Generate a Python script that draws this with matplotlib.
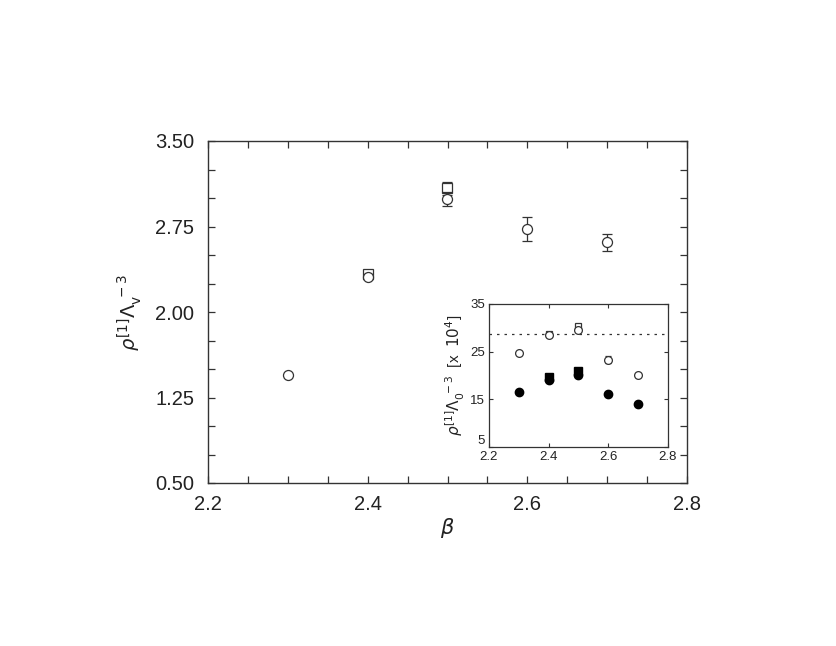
import matplotlib
matplotlib.use("Agg")
import matplotlib.pyplot as plt
from matplotlib.ticker import MultipleLocator

plt.rcParams['font.family'] = ['Liberation Sans', 'DejaVu Sans']
plt.rcParams['mathtext.fontset'] = 'dejavusans'

# Main panel data
beta_circ = [2.3, 2.4, 2.5, 2.6, 2.7]
rho_circ = [1.45, 2.31, 2.99, 2.73, 2.61]
err_circ = [0.0, 0.02, 0.063, 0.107, 0.075]
beta_sq = [2.4, 2.5]
rho_sq = [2.33, 3.085]
err_sq = [0.02, 0.057]

# Inset data
in_beta_oc = [2.3, 2.4, 2.5, 2.6, 2.7]
in_oc = [24.8, 28.6, 29.5, 23.3, 20.1]
in_oc_err = [0.0, 0.3, 0.3, 0.7, 0.0]
in_beta_os = [2.4, 2.5]
in_os = [28.8, 30.4]
in_os_err = [0.4, 0.4]
in_beta_fc = [2.3, 2.4, 2.5, 2.6, 2.7]
in_fc = [16.6, 19.0, 20.1, 16.1, 14.1]
in_beta_fs = [2.4, 2.5]
in_fs = [19.6, 20.9]
in_ref_level = 28.8

main_xticks = [2.2, 2.4, 2.6, 2.8]
main_yticks = [0.5, 1.25, 2.0, 2.75, 3.5]
main_yticklabels = ['0.50', '1.25', '2.00', '2.75', '3.50']
in_yticks = [5, 15, 25, 35]

lc = '#333333'
tc = '#222222'
fig = plt.figure(figsize=(8.36, 6.46), dpi=100)

ax = fig.add_axes([208/836, (646-483)/646, 479/836, 342/646])
ax.errorbar(beta_circ, rho_circ, yerr=err_circ, fmt='o', mfc='white', mec=lc,
            ecolor=lc, ms=7.2, mew=0.9, elinewidth=0.9, capsize=3.3, capthick=0.9, zorder=3)
ax.errorbar(beta_sq, rho_sq, yerr=err_sq, fmt='s', mfc='white', mec=lc,
            ecolor=lc, ms=6.5, mew=0.9, elinewidth=0.9, capsize=3.3, capthick=0.9, zorder=2)
ax.set_xlim(2.2, 2.8)
ax.set_ylim(0.5, 3.5)
ax.set_yticks(main_yticks)
ax.set_yticklabels(main_yticklabels)
ax.set_xticks(main_xticks)
ax.set_xticklabels([f'{v:.1f}' for v in main_xticks])
ax.xaxis.set_minor_locator(MultipleLocator(0.05))
ax.yaxis.set_minor_locator(MultipleLocator(0.25))
ax.tick_params(which='both', direction='in', top=True, right=True, length=5,
               width=0.9, color=lc, labelsize=14.5, labelcolor=tc)
ax.tick_params(axis='y', pad=10)
ax.tick_params(axis='x', pad=9)
for s in ax.spines.values():
    s.set_color(lc)
    s.set_linewidth(1.0)
ax.set_xlabel(r'$\beta$', fontsize=15, labelpad=1, color=tc)
ax.set_ylabel(r'$\rho^{[1]}\Lambda_{\rm v}^{\ -3}$', fontsize=14, labelpad=8, color=tc)

# Inset
ins = fig.add_axes([489/836, (646-447)/646, 179/836, 143/646])
ins.axhline(in_ref_level, color=lc, lw=0.9, ls=(0, (2, 4)), zorder=1)
ins.errorbar(in_beta_oc, in_oc, yerr=in_oc_err, fmt='o', mfc='white', mec=lc,
             ecolor=lc, ms=5.6, mew=0.9, elinewidth=0.8, capsize=2.5, capthick=0.8, zorder=3)
ins.errorbar(in_beta_os, in_os, yerr=in_os_err, fmt='s', mfc='white', mec=lc,
             ecolor=lc, ms=5.0, mew=0.9, elinewidth=0.8, capsize=2.5, capthick=0.8, zorder=2)
ins.plot(in_beta_fs, in_fs, 's', color='black', ms=5.5, zorder=3)
ins.plot(in_beta_fc, in_fc, 'o', color='black', ms=6.0, zorder=4)
ins.set_xlim(2.2, 2.8)
ins.set_ylim(5, 35)
ins.set_xticks(main_xticks)
ins.set_xticklabels([f'{v:.1f}' for v in main_xticks])
ins.set_yticks(in_yticks)
ins.set_yticklabels([str(v) for v in in_yticks])
ins.tick_params(direction='in', top=True, right=True, length=3, width=0.8,
                color=lc, labelsize=9.5, labelcolor=tc, pad=3)
ins.get_yticklabels()[0].set_verticalalignment('bottom')
for s in ins.spines.values():
    s.set_color(lc)
    s.set_linewidth(0.9)
ins.set_ylabel(r'$\rho^{[1]}\Lambda_{0}^{\ -3}$  [x  $10^4$]', fontsize=11, labelpad=2, color=tc)

fig.savefig('out.png', dpi=100)
